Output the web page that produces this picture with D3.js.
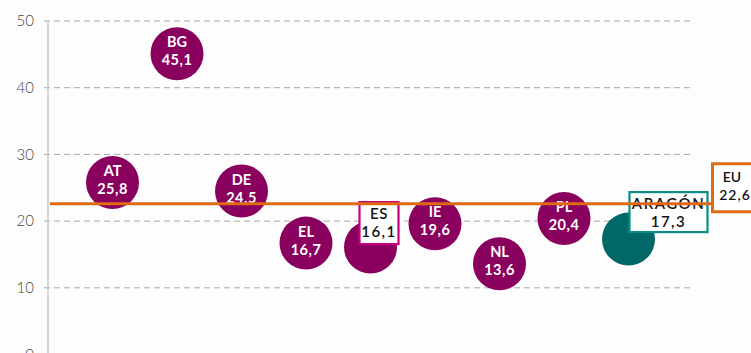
<!DOCTYPE html>
<html>
<head>
<meta charset="utf-8">
<script src="https://cdn.jsdelivr.net/npm/d3@7"></script>
<style>
  html, body { margin: 0; padding: 0; background: #fdfdfd; }
  svg { display: block; }
</style>
</head>
<body>
<svg id="chart" width="751" height="353"></svg>
<script>
// Regions and their values
const regions = ["AT", "BG", "DE", "EL", "ES", "IE", "NL", "PL", "ARAGÓN"];
const values  = [25.8, 45.1, 24.5, 16.7, 16.1, 19.6, 13.6, 20.4, 17.3];
const yTicks  = [0, 10, 20, 30, 40, 50];
const euLabel = "EU";
const euValue = 22.6;

const fmt = v => d3.format(".1f")(v).replace(".", ",");

const W = 751, H = 353;
const left = 48, right = 693;
const svg = d3.select("#chart");

const x = d3.scalePoint().domain(regions).range([left, right]).padding(1);
const y = d3.scaleLinear().domain([0, 50]).range([354.5, 21]);

// Dashed horizontal gridlines
svg.append("g")
  .selectAll("line")
  .data(yTicks)
  .join("line")
  .attr("x1", left - 4).attr("x2", right)
  .attr("y1", d => y(d)).attr("y2", d => y(d))
  .attr("stroke", "#a8a8a8")
  .attr("stroke-width", 1)
  .attr("stroke-dasharray", "6,4");

// Left axis with tick labels
const yAxis = d3.axisLeft(y).tickValues(yTicks).tickSize(0).tickPadding(14);
const gAxis = svg.append("g").attr("transform", `translate(${left},0)`).call(yAxis);
gAxis.select(".domain").remove();
gAxis.selectAll("text")
  .attr("font-family", "Lato, 'Open Sans', sans-serif")
  .attr("font-weight", 300)
  .attr("font-size", 15)
  .attr("fill", "#444");

svg.append("line")
  .attr("x1", left).attr("x2", left)
  .attr("y1", y(50)).attr("y2", H)
  .attr("stroke", "#c8c8c8").attr("stroke-width", 1.5);

const data = regions.map((r, i) => ({ r, v: values[i] }));
const isHome = d => d.r === "ARAGÓN";
const isBoxed = d => d.r === "ES" || d.r === "ARAGÓN";
const R = 26.5;

// Bubbles
svg.append("g")
  .selectAll("circle")
  .data(data)
  .join("circle")
  .attr("cx", d => x(d.r))
  .attr("cy", d => y(d.v))
  .attr("r", R)
  .attr("fill", d => isHome(d) ? "#006866" : "#8a005e");

// White labels inside the bubbles
const inner = svg.append("g")
  .attr("font-family", "Lato, 'Open Sans', sans-serif")
  .attr("font-weight", 700)
  .attr("font-size", 14.5)
  .attr("fill", "#fff")
  .attr("text-anchor", "middle");
data.filter(d => !isBoxed(d)).forEach(d => {
  inner.append("text").attr("x", x(d.r)).attr("y", y(d.v) - 6.5).text(d.r);
  inner.append("text").attr("x", x(d.r)).attr("y", y(d.v) + 11.5)
    .attr("letter-spacing", 0.5).text(fmt(d.v));
});

// Boxed callouts (ES and ARAGÓN)
const boxes = [
  { d: data[4], dx: -11, dy: -45, w: 39, h: 42, stroke: "#c4007f", ls: 0.5 },
  { d: data[8], dx: 1, dy: -47, w: 78, h: 40, stroke: "#0a8c88", ls: 1.5 }
];
const gBox = svg.append("g");
boxes.forEach(b => {
  const bx = x(b.d.r) + b.dx, by = y(b.d.v) + b.dy;
  gBox.append("rect")
    .attr("x", bx).attr("y", by).attr("width", b.w).attr("height", b.h)
    .attr("fill", "#fff").attr("stroke", b.stroke).attr("stroke-width", 2.2);
  const t = gBox.append("g")
    .attr("font-family", "Lato, 'Open Sans', sans-serif")
    .attr("font-weight", 600)
    .attr("font-size", 15)
    .attr("fill", "#111")
    .attr("text-anchor", "middle");
  t.append("text").attr("x", bx + b.w / 2).attr("y", by + 17)
    .attr("letter-spacing", b.ls).text(b.d.r);
  t.append("text").attr("x", bx + b.w / 2).attr("y", by + 35)
    .attr("letter-spacing", 1.5).text(fmt(b.d.v));
});

// EU reference line and its label
const euBoxX = 711;
svg.append("line")
  .attr("x1", left + 2).attr("x2", euBoxX)
  .attr("y1", y(euValue)).attr("y2", y(euValue))
  .attr("stroke", "#e06a12").attr("stroke-width", 3);

const eby = y(euValue) - 40;
svg.append("rect")
  .attr("x", euBoxX + 1.5).attr("y", eby).attr("width", 60).attr("height", 48)
  .attr("fill", "#fff").attr("stroke", "#e06a12").attr("stroke-width", 3);
const et = svg.append("g")
  .attr("font-family", "Lato, 'Open Sans', sans-serif")
  .attr("font-weight", 600)
  .attr("font-size", 14)
  .attr("fill", "#111")
  .attr("text-anchor", "middle");
et.append("text").attr("x", euBoxX + 21).attr("y", eby + 18).text(euLabel);
et.append("text").attr("x", euBoxX + 24).attr("y", eby + 36).attr("letter-spacing", 1).text(fmt(euValue));
</script>
</body>
</html>
